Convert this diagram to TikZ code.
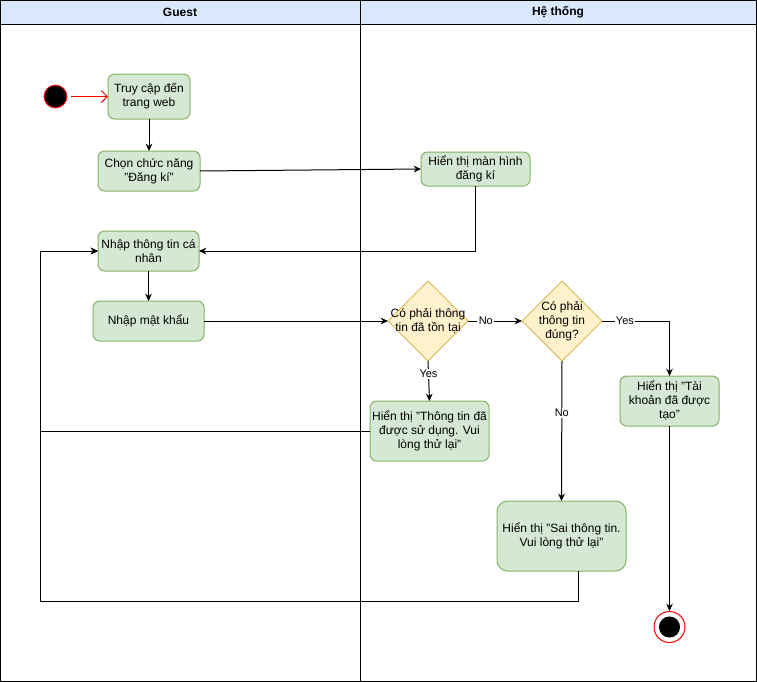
\documentclass[tikz,border=0pt]{standalone}
\usepackage{fontspec}
\setmainfont{Liberation Sans}
\usepackage{tikz}
\usetikzlibrary{arrows.meta, positioning, shapes.geometric, calc}
\definecolor{actfill}{HTML}{D5E8D4}
\definecolor{actline}{HTML}{82B366}
\definecolor{decfill}{HTML}{FFF2CC}
\definecolor{decline}{HTML}{D6B656}
\definecolor{hdrfill}{HTML}{DAE8FC}

\begin{document}
\begin{tikzpicture}[
    x = 0.75pt, y = -0.75pt,
    line width    = 0.75pt,
    font          = \fontsize{9}{10.5}\selectfont,
    act/.style    = {draw=actline, fill=actfill, rounded corners=5pt,
                     align=center, inner sep=0pt, outer sep=0pt},
    dec/.style    = {draw=decline, fill=decfill, diamond, aspect=1,
                     minimum width=60pt, minimum height=60pt,
                     inner sep=0pt, outer sep=0pt},
    arr/.style    = {-{Stealth[length=5.5pt, width=5pt]}, black},
    lbl/.style    = {fill=white, inner sep=1pt, font=\fontsize{8.25}{9}\selectfont},
    lane/.style   = {draw=black, fill=hdrfill},
  ]
  \useasboundingbox (0,0) rectangle (757,682);
  % swimlanes
  \draw[lane] (0.5,0.5) rectangle (360,24);
  \draw[lane] (360,0.5) rectangle (756.5,24);
  \draw (0.5,24) rectangle (360,681.5);
  \draw (360,24) rectangle (756.5,681.5);
  \node[font=\bfseries\fontsize{9}{10.5}\selectfont] (guest) at (180,12.5) {Guest};
  \node[font=\bfseries\fontsize{9}{10.5}\selectfont] (sys) at (558,12.5) {Hệ thống};

  % guest side
  \node[circle, draw=red, fill=black, minimum size=17pt, inner sep=0pt] (start) at (55.5,96.5) {};
  \node[act, minimum width=61.5pt, minimum height=33.75pt] (truy) at (149,96.5) {Truy cập đến\\trang web};
  \node[act, minimum width=76.5pt, minimum height=30pt] (chon) at (149,171) {Chọn chức năng\\"Đăng kí"};
  \node[act, minimum width=75.75pt, minimum height=30pt] (nhapTT) at (148.5,251) {Nhập thông tin cá\\nhân};
  \node[act, minimum width=83.25pt, minimum height=30pt] (nhapMK) at (148.5,321) {Nhập mật khẩu};
  \coordinate (loop) at (40.5,601);

  % system side
  \node[act, minimum width=81.75pt, minimum height=25.5pt] (manhinh) at (475.5,169) {Hiển thị màn hình\\đăng kí};
  \node[dec, label={[align=center]center:Có phải thông\\tin đã tồn tại}] (q1) at (428,321) {};
  \node[dec, label={[align=center]center:Có phải\\thông tin\\đúng?}] (q2) at (562,321) {};
  \node[act, minimum width=89.25pt, minimum height=45pt] (used) at (429.5,431) {Hiển thị "Thông tin đã\\được sử dụng. Vui\\lòng thử lại"};
  \node[act, minimum width=74.25pt, minimum height=37.5pt] (taikhoan) at (669.5,401) {Hiển thị "Tài\\khoản đã được\\tạo"};
  \node[act, minimum width=96.75pt, minimum height=52.5pt, rounded corners=8pt] (sai) at (561.5,536) {Hiển thị "Sai thông tin.\\Vui lòng thử lại"};
  \node[circle, draw=red, fill=white, minimum size=23.25pt, inner sep=0pt,
        path picture={\fill[black] (path picture bounding box.center) circle (7.9pt);}] (stop) at (669.5,627) {};

  \draw[-{Straight Barb[length=4.5pt, width=9pt]}, red] ([xshift=3pt]start.east) -- (truy.west);
  \draw[arr] (truy) -- (chon);
  \draw[arr] (chon.east) -- (manhinh.west);
  \draw[arr] (manhinh.south) |- (nhapTT.east);
  \draw[arr] (nhapTT) -- (nhapMK);
  \draw[arr] (nhapMK.east) -- (q1.west);
  \draw[arr] (q1.east) -- node[lbl, pos=0.33] {No} (q2.west);
  \draw[arr] (q1.south) -- node[lbl, pos=0.33] {Yes} (used.north);
  \draw[arr] (q2.east) -| node[lbl, pos=0.17] {Yes} (taikhoan.north);
  \draw[arr] (q2.south) -- node[lbl, pos=0.37] {No} (sai.north);
  \draw[arr] (taikhoan.south) -- (stop.north);
  % back to the form
  \draw[arr] ([xshift=12.4pt]sai.south) |- (loop) |- (nhapTT.west);
  \draw[arr] (used.west) -- (used.west -| loop) |- (nhapTT.west);
\end{tikzpicture}
\end{document}
